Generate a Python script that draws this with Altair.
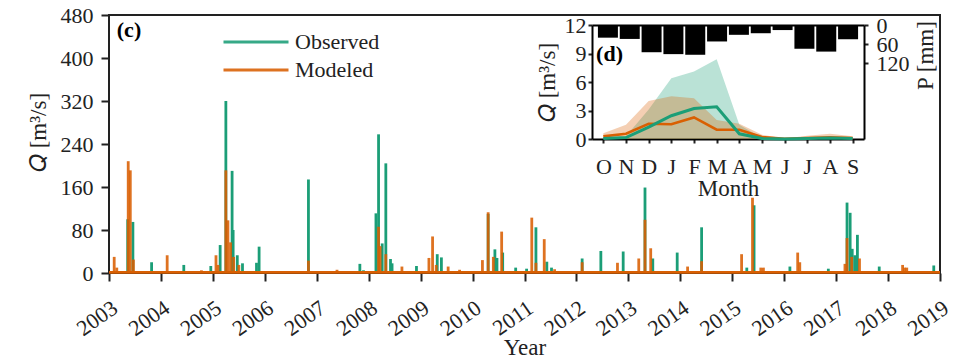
import json
import altair as alt
import pandas as pd

GREEN = "#1b9e77"
ORANGE = "#d95f02"
INK = "#222222"
FONT = "Liberation Serif"

# ---------------- main panel (c) ----------------
years = list(range(2003, 2020))
q_ticks = [0, 80, 160, 240, 320, 400, 480]

obs_t = [2003.36, 2003.46, 2003.82, 2004.44, 2004.96, 2005.14, 2005.25, 2005.37, 2005.39,
         2005.47, 2005.57, 2005.84, 2005.89, 2006.84, 2007.83, 2007.90, 2008.14, 2008.19,
         2008.26, 2008.33, 2008.42, 2008.45, 2008.92, 2009.32, 2009.40, 2010.30, 2010.43,
         2010.47, 2010.58, 2010.83, 2011.04, 2011.22, 2011.43, 2011.52, 2012.11, 2012.47,
         2012.90, 2013.32, 2013.47, 2013.94, 2014.41, 2015.28, 2015.42, 2016.11, 2016.85,
         2017.21, 2017.27, 2017.31, 2017.36, 2017.41, 2017.83, 2018.88]
obs_q = [100, 95, 20, 15, 13, 52, 320, 190, 80,
         33, 18, 19, 49, 174, 17, 5, 111, 258,
         55, 204, 26, 18, 13, 35, 29, 110, 44,
         28, 38, 10, 8, 85, 21, 10, 27, 41,
         40, 159, 27, 38, 85, 10, 126, 12, 8,
         131, 112, 45, 33, 71, 12, 14]

mod_t = [2003.10, 2003.15, 2003.37, 2003.41, 2003.47, 2004.12, 2004.78, 2005.06, 2005.10,
         2005.25, 2005.29, 2005.34, 2005.40, 2005.50, 2006.84, 2007.39, 2008.19, 2008.22,
         2008.33, 2008.64, 2009.16, 2009.23, 2009.30, 2009.53, 2009.75, 2010.19, 2010.30,
         2010.40, 2010.56, 2011.14, 2011.22, 2011.38, 2011.58, 2012.11, 2012.79, 2013.20,
         2013.32, 2013.43, 2014.14, 2014.41, 2015.18, 2015.39, 2015.55, 2015.60, 2016.26,
         2016.30, 2017.17, 2017.21, 2017.30, 2017.45, 2018.28, 2018.32, 2018.36]
mod_q = [30, 10, 208, 191, 25, 33, 5, 33, 15,
         191, 98, 57, 30, 15, 23, 6, 86, 50,
         35, 12, 28, 68, 15, 12, 6, 24, 113,
         30, 77, 103, 19, 63, 7, 20, 19, 27,
         99, 46, 12, 22, 35, 140, 10, 10, 38,
         20, 17, 65, 30, 27, 15, 10, 10]
base_q = 1.2

# ---------------- inset panel (d) ----------------
months = ["O", "N", "D", "J", "F", "M", "A", "M", "J", "J", "A", "S"]
obs_mean = [0.05, 0.15, 1.25, 2.45, 3.2, 3.4, 0.55, 0.05, 0.0, 0.05, 0.1, 0.05]
mod_mean = [0.28, 0.56, 1.6, 1.55, 2.27, 0.98, 0.98, 0.2, 0.02, 0.1, 0.17, 0.1]
obs_upper = [0.1, 0.3, 3.1, 6.4, 7.1, 8.4, 1.5, 0.1, 0.0, 0.1, 0.2, 0.1]
mod_upper = [0.6, 1.5, 4.0, 4.5, 4.3, 2.0, 1.6, 0.45, 0.05, 0.35, 0.55, 0.3]
band_lower = [0.0] * 12
precip = [40, 44, 86, 92, 94, 52, 31, 26, 16, 75, 84, 45]

W, H = 831, 258

obs_df = pd.DataFrame({"t": obs_t, "q": obs_q, "series": "Observed"})
mod_df = pd.DataFrame({"t": mod_t, "q": mod_q, "series": "Modeled"})
base_df = pd.DataFrame({"t": [years[0]], "t2": [years[-1]], "q": [base_q], "series": ["Modeled"]})
lab_c = pd.DataFrame({"t": [2003.15], "q": [452], "label": ["(c)"]})

xs = alt.Scale(domain=[years[0], years[-1]], nice=False, zero=False)
ys = alt.Scale(domain=[q_ticks[0], q_ticks[-1]], nice=False)
cs = alt.Scale(domain=["Observed", "Modeled"], range=[GREEN, ORANGE])

x_axis = alt.Axis(values=years, format="d", title="Year", orient="bottom",
                  labelAngle=325, labelAlign="right", labelBaseline="top",
                  labelPadding=16, labelOffset=0, tickSize=8, tickWidth=2,
                  domain=False, labelFlush=False, labelOverlap=False,
                  titleY=81, titleBaseline="alphabetic")
y_axis = alt.Axis(values=q_ticks, title="𝑄 [m³/s]", orient="left", tickSize=8,
                  tickWidth=2, labelPadding=8, domain=False, labelOverlap=False,
                  titleX=-71, titleY=117, titleBaseline="middle")
legend = alt.Legend(orient="none", legendX=113, legendY=13, title=None,
                    symbolType="stroke", symbolSize=4225, symbolStrokeWidth=3,
                    clipHeight=28, rowPadding=0, labelFontSize=22, labelFont=FONT,
                    labelOffset=5, padding=0, labelColor=INK)

obs_layer = alt.Chart(obs_df).mark_rule(strokeWidth=2.8).encode(
    x=alt.X("t:Q", scale=xs, axis=x_axis),
    y=alt.Y("q:Q", scale=ys, axis=y_axis),
    y2=alt.datum(0),
    color=alt.Color("series:N", scale=cs, legend=legend),
)
mod_layer = alt.Chart(mod_df).mark_rule(strokeWidth=2.8, opacity=0.88).encode(
    x=alt.X("t:Q", scale=xs),
    y=alt.Y("q:Q", scale=ys),
    y2=alt.datum(0),
    color=alt.Color("series:N", scale=cs, legend=legend),
)
base_layer = alt.Chart(base_df).mark_rule(strokeWidth=2.6).encode(
    x=alt.X("t:Q", scale=xs),
    x2="t2:Q",
    y=alt.Y("q:Q", scale=ys),
    color=alt.Color("series:N", scale=cs, legend=legend),
)
c_text = alt.Chart(lab_c).mark_text(font=FONT, fontSize=22, fontWeight="bold",
                                    align="left", baseline="middle", color="black").encode(
    x=alt.X("t:Q", scale=xs), y=alt.Y("q:Q", scale=ys), text="label:N")

main = alt.layer(obs_layer, mod_layer, base_layer, c_text)

# inset geometry (pixels inside the main plot area)
ins_left, ins_right, ins_top, ins_bottom = 483, 755, 10, 124

ins_df = pd.DataFrame({"m": list(range(12)), "obs": obs_mean, "mod": mod_mean,
                       "obs_hi": obs_upper, "mod_hi": mod_upper, "lo": band_lower,
                       "p": precip})
lab_d = pd.DataFrame({"m": [-0.32], "q": [8.95], "label": ["(d)"]})

ixs = alt.Scale(domain=[-0.5, 11.5], range=[ins_left, ins_right], nice=False, zero=False)
iqs = alt.Scale(domain=[0, 12], range=[ins_bottom, ins_top], nice=False)
ips = alt.Scale(domain=[0, 360], range=[ins_top, ins_bottom], nice=False)

label_expr = json.dumps(months) + "[datum.value]"
ix_axis = alt.Axis(orient="bottom", offset=ins_bottom - H, values=list(range(12)),
                   labelExpr=label_expr, title="Month", tickSize=4, tickWidth=2,
                   labelPadding=13, titlePadding=0, domainWidth=2, domainColor="black",
                   labelFlush=False, labelOverlap=False)
iq_axis = alt.Axis(orient="left", offset=-ins_left, values=[0, 3, 6, 9, 12],
                   title="𝑄 [m³/s]", tickSize=4, tickWidth=2, labelPadding=2,
                   titlePadding=5, domainWidth=2, domainColor="black", labelOverlap=False)
ip_axis = alt.Axis(orient="right", offset=ins_right - W, values=[0, 60, 120],
                   title="P [mm]", titleAngle=270, titleX=61, titleY=40,
                   titleBaseline="middle", tickSize=4, tickWidth=2,
                   labelPadding=8, domainWidth=2, domainColor="black",
                   labelOverlap=False)
top_axis = alt.Axis(orient="top", offset=-ins_top, labels=False, ticks=False,
                    title=None, domainWidth=2, domainColor="black")

ix = alt.X("m:Q", scale=ixs, axis=ix_axis)
band_obs = alt.Chart(ins_df).mark_area(color=GREEN, opacity=0.3).encode(
    x=ix, y=alt.Y("obs_hi:Q", scale=iqs, axis=iq_axis), y2="lo:Q")
band_mod = alt.Chart(ins_df).mark_area(color=ORANGE, opacity=0.3).encode(
    x=alt.X("m:Q", scale=ixs), y=alt.Y("mod_hi:Q", scale=iqs), y2="lo:Q")
line_mod = alt.Chart(ins_df).mark_line(color=ORANGE, strokeWidth=2.6).encode(
    x=alt.X("m:Q", scale=ixs), y=alt.Y("mod:Q", scale=iqs))
line_obs = alt.Chart(ins_df).mark_line(color=GREEN, strokeWidth=3).encode(
    x=alt.X("m:Q", scale=ixs), y=alt.Y("obs:Q", scale=iqs))
d_text = alt.Chart(lab_d).mark_text(font=FONT, fontSize=22, fontWeight="bold",
                                    align="left", baseline="middle", color="black").encode(
    x=alt.X("m:Q", scale=ixs), y=alt.Y("q:Q", scale=iqs), text="label:N")
inset_q = alt.layer(band_obs, band_mod, line_mod, line_obs, d_text)

inset_p = alt.Chart(ins_df).mark_bar(color="black", size=20).encode(
    x=alt.X("m:Q", scale=ixs, axis=top_axis),
    y=alt.Y("p:Q", scale=ips, axis=ip_axis),
    y2=alt.datum(0),
)

chart = alt.layer(main, inset_q, inset_p).resolve_scale(
    x="independent", y="independent"
).properties(
    width=W, height=H,
    autosize=alt.AutoSizeParams(type="none"),
    padding={"left": 101, "top": 7, "right": 10, "bottom": 82},
).configure_view(
    stroke=INK, strokeWidth=2
).configure_axis(
    labelFont=FONT, titleFont=FONT, labelFontSize=22, titleFontSize=23,
    titleFontWeight="normal", labelColor=INK, titleColor=INK, tickColor=INK,
    grid=False,
)

chart.save("out.html", embed_options={"renderer": "svg", "actions": False})
